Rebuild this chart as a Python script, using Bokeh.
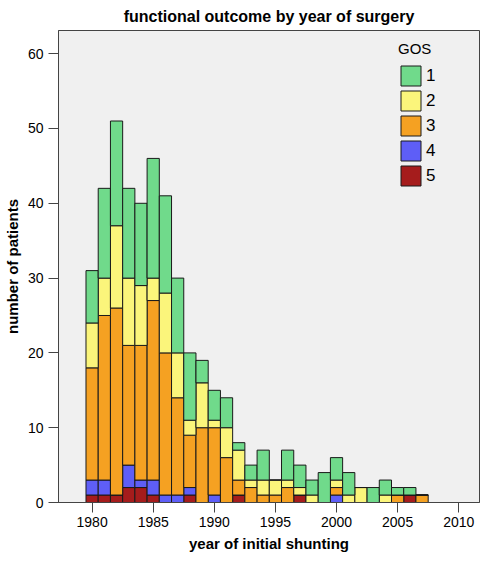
from bokeh.plotting import figure
from bokeh.models import Legend, LegendItem, FixedTicker, ColumnDataSource
from bokeh.embed import file_html
from bokeh.resources import INLINE

years = list(range(1980, 2008))
gos1 = [7, 12, 14, 12, 11, 16, 13, 10, 9, 3, 4, 4, 1, 2, 4, 0, 4, 3, 2, 4, 3, 3, 0, 2, 2, 1, 1, 0]
gos2 = [6, 5, 11, 9, 8, 3, 8, 6, 2, 6, 1, 4, 4, 1, 2, 2, 1, 1, 1, 0, 1, 1, 2, 0, 1, 0, 0, 0]
gos3 = [15, 22, 25, 16, 18, 24, 19, 13, 7, 10, 9, 6, 2, 2, 1, 1, 2, 0, 0, 0, 1, 0, 0, 0, 0, 1, 0, 1]
gos4 = [2, 2, 0, 3, 1, 2, 1, 1, 1, 0, 1, 0, 0, 0, 0, 0, 0, 0, 0, 0, 1, 0, 0, 0, 0, 0, 0, 0]
gos5 = [1, 1, 1, 2, 2, 1, 0, 0, 1, 0, 0, 0, 1, 0, 0, 0, 0, 1, 0, 0, 0, 0, 0, 0, 0, 0, 1, 0]

categories = ["5", "4", "3", "2", "1"]
colors = ["#A51C1C", "#5E5EF7", "#F5A122", "#FBF57B", "#70DA8B"]

source = ColumnDataSource(dict(year=years, g1=gos1, g2=gos2, g3=gos3, g4=gos4, g5=gos5))
stack_cols = ["g5", "g4", "g3", "g2", "g1"]

FONT = "Liberation Sans"

p = figure(width=484, height=554, x_range=(1977.25, 2011.7), y_range=(0, 63.1),
           output_backend="svg", toolbar_location=None,
           title="functional outcome by year of surgery",
           min_border_left=52, min_border_right=5, min_border_top=0, min_border_bottom=0)

renderers = p.vbar_stack(stack_cols, x="year", width=1.0, source=source,
                         fill_color=colors, line_color="#1a1a1a", line_width=1)

p.title.align = "center"
p.title.text_font = FONT
p.title.text_font_size = "16px"
p.title.text_font_style = "bold"
p.title.text_color = "#000000"
p.title.standoff = 11

p.background_fill_color = "#F0F0F0"
p.border_fill_color = "#FFFFFF"
p.outline_line_color = "#444444"
p.outline_line_width = 1
p.xgrid.visible = False
p.ygrid.visible = False

p.xaxis.ticker = FixedTicker(ticks=[1980, 1985, 1990, 1995, 2000, 2005, 2010])
p.yaxis.ticker = FixedTicker(ticks=[0, 10, 20, 30, 40, 50, 60])
for ax in (p.xaxis, p.yaxis):
    ax.axis_line_color = "#444444"
    ax.major_tick_line_color = "#444444"
    ax.major_tick_out = 10
    ax.major_tick_in = 0
    ax.minor_tick_line_color = None
    ax.major_label_text_font = FONT
    ax.major_label_text_font_size = "14px"
    ax.major_label_text_color = "#000000"
    ax.axis_label_text_font = FONT
    ax.axis_label_text_font_size = "15px"
    ax.axis_label_text_font_style = "bold"
    ax.axis_label_text_color = "#000000"

p.xaxis.major_label_standoff = 4
p.yaxis.major_label_standoff = 5
p.xaxis.axis_label = "year of initial shunting"
p.yaxis.axis_label = "number of patients"
p.xaxis.axis_label_standoff = 5
p.yaxis.axis_label_standoff = 4

items = [LegendItem(label=c, renderers=[r]) for c, r in zip(categories, renderers)]
items = items[::-1]
legend = Legend(items=items, title="GOS", location=(340, 314),
                glyph_width=25, glyph_height=25, label_height=25, spacing=0,
                label_standoff=3, padding=0, margin=0,
                background_fill_alpha=0, border_line_color=None,
                label_text_font=FONT, label_text_font_size="17px",
                label_text_color="#000000",
                title_text_font=FONT, title_text_font_size="15px",
                title_text_color="#000000",
                title_text_font_style="normal", title_standoff=6)
p.add_layout(legend)

open("out.html", "w").write(file_html(p, INLINE))
